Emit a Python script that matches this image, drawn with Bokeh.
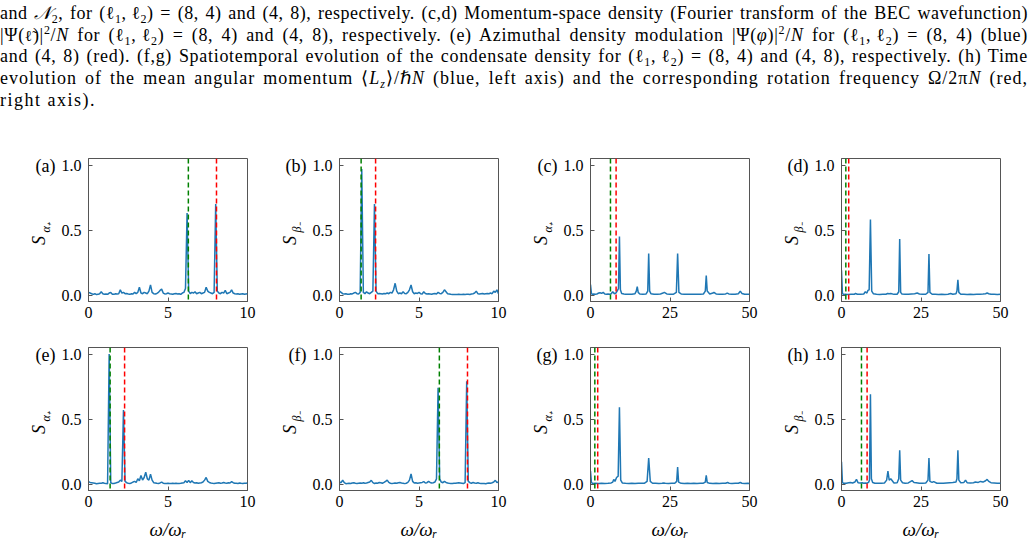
import numpy as np
from bokeh.plotting import figure
from bokeh.models import Span, Div, FixedTicker, Spacer, Range1d, PrintfTickFormatter
from bokeh.core.properties import value
from bokeh.layouts import column, row
from bokeh.embed import file_html
from bokeh.resources import INLINE

# ---------------------------------------------------------------- data
# frequency grid of the short-window spectra (0 ... 10, step 0.1)
omega_short = [round(0.1 * k, 1) for k in range(101)]

s_a = [0.02, 0.015, 0.01, 0.005, 0.01, 0.003, 0.005, 0.01, 0.025, 0.01,
       0.005, 0.008, 0.005, 0.015, 0.02, 0.006, 0.005, 0.01, 0.008, 0.01,
       0.04, 0.015, 0.02, 0.01, 0.012, 0.008, 0.005, 0.01, 0.008, 0.02,
       0.01, 0.02, 0.06, 0.015, 0.01, 0.02, 0.015, 0.01, 0.03, 0.078,
       0.02, 0.01, 0.008, 0.012, 0.02, 0.035, 0.045, 0.015, 0.008, 0.01,
       0.015, 0.01, 0.008, 0.006, 0.01, 0.012, 0.008, 0.01, 0.005, 0.015,
       0.02, 0.05, 0.63, 0.03, 0.01, 0.02, 0.015, 0.025, 0.01, 0.015,
       0.02, 0.01, 0.015, 0.02, 0.06, 0.03, 0.02, 0.015, 0.01, 0.02,
       0.70, 0.03, 0.015, 0.01, 0.02, 0.015, 0.035, 0.01, 0.015, 0.02,
       0.04, 0.015, 0.01, 0.008, 0.01, 0.005, 0.008, 0.01, 0.006, 0.008,
       0.01]

s_b = [0.03, 0.02, 0.01, 0.008, 0.01, 0.006, 0.005, 0.01, 0.008, 0.015,
       0.02, 0.01, 0.008, 0.02, 0.97, 0.02, 0.01, 0.025, 0.015, 0.01,
       0.02, 0.03, 0.70, 0.03, 0.01, 0.012, 0.01, 0.008, 0.012, 0.01,
       0.015, 0.01, 0.02, 0.015, 0.04, 0.09, 0.03, 0.01, 0.015, 0.01,
       0.025, 0.012, 0.01, 0.02, 0.04, 0.078, 0.025, 0.01, 0.015, 0.012,
       0.02, 0.01, 0.008, 0.025, 0.012, 0.008, 0.01, 0.008, 0.006, 0.01,
       0.012, 0.008, 0.02, 0.012, 0.01, 0.02, 0.04, 0.025, 0.01, 0.008,
       0.005, 0.003, 0.003, 0.004, 0.003, 0.005, 0.004, 0.003, 0.005, 0.004,
       0.005, 0.006, 0.004, 0.008, 0.01, 0.015, 0.03, 0.01, 0.008, 0.01,
       0.012, 0.008, 0.01, 0.012, 0.01, 0.015, 0.01, 0.03, 0.02, 0.04,
       0.01]

s_e = [0.018, 0.012, 0.01, 0.008, 0.005, 0.002, 0.004, 0.006, 0.005, 0.01,
       0.006, 0.003, 0.002, 1.0, 0.01, 0.003, 0.004, 0.008, 0.012, 0.015,
       0.03, 0.02, 0.57, 0.02, 0.01, 0.006, 0.004, 0.008, 0.015, 0.02,
       0.012, 0.04, 0.025, 0.065, 0.03, 0.05, 0.09, 0.04, 0.03, 0.075,
       0.03, 0.01, 0.008, 0.005, 0.004, 0.008, 0.015, 0.006, 0.004, 0.003,
       0.005, 0.004, 0.003, 0.005, 0.004, 0.006, 0.004, 0.003, 0.005, 0.008,
       0.01, 0.025, 0.012, 0.028, 0.01, 0.025, 0.012, 0.008, 0.01, 0.006,
       0.008, 0.01, 0.015, 0.03, 0.05, 0.02, 0.012, 0.008, 0.005, 0.004,
       0.006, 0.008, 0.01, 0.006, 0.008, 0.012, 0.008, 0.006, 0.01, 0.008,
       0.018, 0.01, 0.006, 0.005, 0.004, 0.008, 0.005, 0.004, 0.006, 0.005,
       0.008]

s_f = [0.015, 0.01, 0.03, 0.01, 0.002, 0.004, 0.006, 0.004, 0.008, 0.01,
       0.006, 0.004, 0.006, 0.008, 0.005, 0.01, 0.006, 0.008, 0.012, 0.015,
       0.028, 0.01, 0.004, 0.008, 0.006, 0.012, 0.01, 0.006, 0.012, 0.02,
       0.03, 0.012, 0.006, 0.003, 0.005, 0.008, 0.006, 0.01, 0.012, 0.008,
       0.006, 0.003, 0.006, 0.012, 0.03, 0.078, 0.02, 0.008, 0.01, 0.006,
       0.008, 0.01, 0.012, 0.018, 0.008, 0.01, 0.02, 0.012, 0.008, 0.01,
       0.015, 0.04, 0.74, 0.04, 0.015, 0.01, 0.02, 0.012, 0.008, 0.005,
       0.003, 0.004, 0.006, 0.005, 0.008, 0.01, 0.008, 0.006, 0.004, 0.01,
       0.79, 0.02, 0.01, 0.006, 0.012, 0.008, 0.005, 0.01, 0.006, 0.004,
       0.003, 0.004, 0.002, 0.005, 0.008, 0.006, 0.01, 0.015, 0.028, 0.012,
       0.015]

# long-window spectra (0 ... 50)
omega_c = [0, 0.3, 0.6, 1.0, 1.5, 2.0, 2.6, 3.0, 3.5, 4.0,
           4.5, 5.0, 5.5, 6.0, 6.5, 7.0, 7.5, 8.0, 8.5, 8.8,
           9.1, 9.4, 9.8, 10.5, 11.0, 12.0, 13.0, 14.0, 14.4, 14.7,
           15.0, 15.5, 16.5, 17.5, 18.0, 18.3, 18.6, 19.0, 20.0, 21.0,
           22.0, 22.8, 23.2, 24.0, 25.0, 26.0, 27.0, 27.4, 27.8, 28.5,
           29.5, 30.5, 31.5, 32.5, 33.5, 34.5, 35.5, 36.1, 36.4, 36.7,
           37.5, 38.5, 38.8, 39.5, 40.5, 41.5, 42.5, 43.0, 43.5, 44.5,
           45.5, 46.5, 47.1, 47.6, 48.5, 49.5, 50.0]
s_c = [0.08, 0.01, 0.005, 0.008, 0.006, 0.008, 0.015, 0.018, 0.012, 0.02,
       0.008, 0.006, 0.008, 0.005, 0.01, 0.025, 0.01, 0.015, 0.035, 0.05,
       0.45, 0.04, 0.012, 0.008, 0.006, 0.005, 0.006, 0.01, 0.03, 0.065,
       0.02, 0.008, 0.006, 0.008, 0.03, 0.32, 0.03, 0.01, 0.006, 0.005,
       0.008, 0.015, 0.02, 0.008, 0.006, 0.005, 0.02, 0.32, 0.02, 0.008,
       0.006, 0.005, 0.006, 0.005, 0.006, 0.005, 0.008, 0.03, 0.15, 0.03,
       0.008, 0.015, 0.02, 0.008, 0.006, 0.005, 0.008, 0.015, 0.008, 0.005,
       0.006, 0.01, 0.03, 0.012, 0.006, 0.005, 0.006]

omega_d = [0, 0.3, 0.7, 1.2, 2.0, 3.0, 4.0, 4.4, 5.0, 6.0,
           7.0, 7.5, 8.0, 8.3, 8.7, 9.1, 9.5, 10.0, 11.0, 12.0,
           13.0, 14.0, 14.5, 15.0, 15.5, 16.5, 17.5, 18.0, 18.3, 18.6,
           19.0, 20.0, 21.0, 22.0, 23.0, 23.8, 24.5, 25.5, 26.5, 27.2,
           27.5, 27.8, 28.5, 29.5, 30.5, 31.5, 32.5, 33.5, 34.3, 35.0,
           36.0, 36.3, 36.6, 36.9, 37.5, 38.5, 39.5, 40.5, 41.5, 42.5,
           43.5, 44.5, 45.3, 45.8, 46.3, 47.0, 48.0, 49.0, 50.0]
s_d = [0.19, 0.01, 0.004, 0.005, 0.004, 0.006, 0.005, 0.012, 0.006, 0.005,
       0.008, 0.025, 0.015, 0.035, 0.04, 0.58, 0.03, 0.01, 0.005, 0.004,
       0.005, 0.006, 0.012, 0.01, 0.012, 0.005, 0.006, 0.025, 0.43, 0.02,
       0.008, 0.005, 0.006, 0.008, 0.01, 0.015, 0.008, 0.005, 0.006, 0.02,
       0.315, 0.02, 0.006, 0.005, 0.004, 0.005, 0.004, 0.006, 0.012, 0.006,
       0.01, 0.03, 0.116, 0.02, 0.006, 0.005, 0.004, 0.005, 0.004, 0.005,
       0.006, 0.008, 0.01, 0.015, 0.01, 0.006, 0.005, 0.004, 0.005]

omega_g = [0, 0.3, 0.7, 1.5, 2.5, 3.5, 4.5, 5.5, 6.5, 7.0,
           7.3, 7.7, 8.2, 8.7, 9.1, 9.5, 10.0, 11.0, 12.0, 13.0,
           14.0, 15.0, 16.0, 17.0, 17.8, 18.3, 18.8, 19.5, 20.5, 21.5,
           22.5, 23.0, 23.5, 24.5, 25.5, 26.5, 27.1, 27.4, 27.7, 28.5,
           29.5, 30.5, 31.5, 32.5, 33.5, 34.5, 35.5, 36.1, 36.4, 36.7,
           37.5, 38.5, 39.5, 40.5, 41.5, 42.5, 43.1, 43.6, 44.5, 45.5,
           46.5, 47.1, 47.6, 48.5, 49.5, 50.0]
s_g = [0.1, 0.01, 0.004, 0.005, 0.004, 0.005, 0.004, 0.005, 0.008, 0.015,
       0.035, 0.02, 0.05, 0.06, 0.59, 0.03, 0.008, 0.005, 0.004, 0.005,
       0.004, 0.006, 0.005, 0.006, 0.02, 0.2, 0.02, 0.006, 0.005, 0.004,
       0.006, 0.008, 0.005, 0.004, 0.005, 0.006, 0.02, 0.13, 0.015, 0.005,
       0.004, 0.005, 0.004, 0.005, 0.004, 0.005, 0.006, 0.015, 0.066, 0.012,
       0.005, 0.004, 0.005, 0.004, 0.005, 0.006, 0.012, 0.006, 0.004, 0.005,
       0.006, 0.012, 0.006, 0.004, 0.005, 0.004]

omega_h = [0, 0.3, 0.7, 1.5, 2.3, 2.8, 3.5, 4.2, 4.7, 5.2,
           6.0, 6.5, 7.0, 7.5, 8.0, 8.5, 8.8, 9.1, 9.4, 9.8,
           10.5, 11.5, 12.5, 13.5, 14.2, 14.6, 15.0, 15.5, 16.5, 17.5,
           18.0, 18.3, 18.6, 19.2, 20.0, 21.0, 22.2, 22.8, 23.5, 24.5,
           25.5, 26.5, 27.2, 27.5, 27.8, 28.5, 29.0, 30.0, 31.0, 32.0,
           33.0, 34.0, 35.0, 36.0, 36.3, 36.6, 36.9, 37.5, 38.5, 39.0,
           39.5, 40.5, 41.5, 42.1, 43.0, 43.7, 44.5, 45.3, 45.8, 46.3,
           47.0, 48.0, 49.0, 50.0]
s_h = [0.17, 0.01, 0.005, 0.006, 0.01, 0.012, 0.008, 0.015, 0.035, 0.01,
       0.008, 0.01, 0.006, 0.008, 0.006, 0.012, 0.03, 0.69, 0.04, 0.012,
       0.006, 0.005, 0.006, 0.008, 0.03, 0.1, 0.03, 0.04, 0.008, 0.01,
       0.04, 0.26, 0.03, 0.01, 0.006, 0.008, 0.026, 0.012, 0.01, 0.006,
       0.005, 0.008, 0.03, 0.2, 0.02, 0.012, 0.018, 0.006, 0.005, 0.006,
       0.008, 0.01, 0.012, 0.015, 0.04, 0.26, 0.03, 0.01, 0.012, 0.03,
       0.01, 0.008, 0.01, 0.015, 0.012, 0.02, 0.015, 0.025, 0.035, 0.02,
       0.01, 0.008, 0.006, 0.005]

# reference frequencies marked by the dashed lines
omega_green = {"a": 6.28, "b": 1.36, "c": 6.28, "d": 1.36,
               "e": 1.36, "f": 6.28, "g": 1.36, "h": 6.28}
omega_red = {"a": 8.05, "b": 2.27, "c": 8.05, "d": 2.27,
             "e": 2.27, "f": 8.05, "g": 2.27, "h": 8.05}

panel_tags = ["a", "b", "c", "d", "e", "f", "g", "h"]
panel_subscripts = ["α₊", "β₋", "α₊", "β₋", "α₊", "β₋", "α₊", "β₋"]
panel_omega = [omega_short, omega_short, omega_c, omega_d,
               omega_short, omega_short, omega_g, omega_h]
panel_s = [s_a, s_b, s_c, s_d, s_e, s_f, s_g, s_h]
panel_xmax = [10, 10, 50, 50, 10, 10, 50, 50]

# ---------------------------------------------------------------- styling
SERIF = "Liberation Serif"
SPINE = "#555555"
BLUE = "#1f77b4"
FRAME_W, FRAME_H = 159, 143
LABEL_W = 50          # strip holding the panel tag and the y label
AXIS_W = 30           # room for the y tick labels
RIGHT = 12
Y_RANGE = (-0.05, 1.05)


def make_label_strip(i, top, bottom):
    """Narrow plot to the left of a panel carrying '(x)' and the S label."""
    s = figure(width=LABEL_W, height=top + FRAME_H + bottom,
               x_range=Range1d(0, LABEL_W), y_range=Range1d(*Y_RANGE),
               x_axis_type=None, y_axis_type=None,
               output_backend="svg", toolbar_location=None,
               min_border_left=0, min_border_right=0,
               min_border_top=top, min_border_bottom=bottom,
               background_fill_color="white", border_fill_color="white")
    s.grid.visible = False
    s.outline_line_color = None
    s.text(x=[LABEL_W - 3], y=[0.99], text=[f"({panel_tags[i]})"],
           text_align="right", text_baseline="middle",
           text_font=value(SERIF), text_font_size="18px", text_color="black")
    s.text(x=[LABEL_W - 20], y=[0.42], text=["S"], angle=np.pi / 2,
           text_align="center", text_baseline="middle",
           text_font=value(SERIF), text_font_style="italic",
           text_font_size="18px", text_color="black")
    s.text(x=[LABEL_W - 13], y=[0.52], text=[panel_subscripts[i]], angle=np.pi / 2,
           text_align="center", text_baseline="middle",
           text_font=value(SERIF), text_font_style="italic",
           text_font_size="12px", text_color="black")
    return s


def make_panel(i, top, bottom, xlabel):
    tag = panel_tags[i]
    xmax = panel_xmax[i]
    p = figure(width=AXIS_W + FRAME_W + RIGHT, height=top + FRAME_H + bottom,
               x_range=Range1d(0, xmax), y_range=Range1d(*Y_RANGE),
               output_backend="svg", toolbar_location=None,
               min_border_left=AXIS_W, min_border_right=RIGHT,
               min_border_top=top, min_border_bottom=bottom,
               background_fill_color="white", border_fill_color="white")
    p.grid.visible = False
    p.outline_line_color = SPINE
    p.outline_line_width = 1

    for ax in (p.xaxis[0], p.yaxis[0]):
        ax.axis_line_color = SPINE
        ax.major_tick_line_color = SPINE
        ax.major_tick_in = 4
        ax.major_tick_out = 0
        ax.minor_tick_line_color = None
        ax.major_label_text_font = SERIF
        ax.major_label_text_font_size = "16px"
        ax.major_label_text_color = "black"
    p.xaxis.ticker = FixedTicker(ticks=[0, xmax / 2, xmax])
    p.xaxis.formatter = PrintfTickFormatter(format="%d")
    p.yaxis.ticker = FixedTicker(ticks=[0.0, 0.5, 1.0])
    p.yaxis.formatter = PrintfTickFormatter(format="%.1f")
    p.xaxis.major_label_standoff = 5
    p.yaxis.major_label_standoff = 7

    if xlabel:
        p.xaxis.axis_label = "ω/ωᵣ"
        p.xaxis.axis_label_text_font = SERIF
        p.xaxis.axis_label_text_font_style = "italic"
        p.xaxis.axis_label_text_font_size = "19px"
        p.xaxis.axis_label_text_color = "black"
        p.xaxis.axis_label_standoff = 9

    p.line(panel_omega[i], panel_s[i], line_color=BLUE, line_width=1.5)

    p.add_layout(Span(location=omega_green[tag], dimension="height",
                      line_color="green", line_dash="5 3", line_width=1.5))
    p.add_layout(Span(location=omega_red[tag], dimension="height",
                      line_color="red", line_dash="5 3", line_width=1.5))
    return p


# ---------------------------------------------------------------- caption
def sub(t):
    return f'<span style="font-size:12px;vertical-align:-4px;line-height:0">{t}</span>'


def sup(t):
    return f'<span style="font-size:12px;vertical-align:7px;line-height:0">{t}</span>'


def math(t):
    # keep a formula together so that justification does not spread it
    return f'<span style="display:inline-block;line-height:0">{t}</span>'


# ell with a combining tilde, set in a face that carries the accent
ell_tilde = '<span style="font-family:\'DejaVu Serif\';font-size:15px">ℓ\u0303</span>'
ell = math(f"(ℓ{sub('1')}, ℓ{sub('2')})")
caption_lines = [
    f"and {math('<i>𝒩</i>' + sub('2'))}, for {ell} = (8, 4) and (4, 8), respectively. (c,d) "
    f"Momentum-space density (Fourier transform of the BEC wavefunction)",
    f"{math('|Ψ(' + ell_tilde + ')|' + sup('2') + '/<i>N</i>')} for {ell} = (8, 4) and (4, 8), "
    f"respectively. (e) Azimuthal density modulation "
    f"{math('|Ψ(<i>φ</i>)|' + sup('2') + '/<i>N</i>')} for {ell} = (8, 4) (blue)",
    f"and (4, 8) (red). (f,g) Spatiotemporal evolution of the condensate density for "
    f"{ell} = (8, 4) and (4, 8), respectively. (h) Time",
    f"evolution of the mean angular momentum {math('⟨<i>L</i>' + sub('<i>z</i>') + '⟩/ℏ<i>N</i>')} "
    f"(blue, left axis) and the corresponding rotation frequency {math('Ω/2π<i>N</i>')} (red,",
    "right axis).",
]
caption_tracking = [0.5, 0.7, 0.7, 1.0, 1.5]   # letter-spacing per line, px

line_css = "height:21.7px;line-height:21.7px;white-space:nowrap;"
html = []
for k, t in enumerate(caption_lines):
    last = k == len(caption_lines) - 1
    align = "text-align:left;" if last else "text-align:justify;text-align-last:justify;"
    html.append(f'<div style="{line_css}{align}letter-spacing:{caption_tracking[k]}px;">{t}</div>')
caption = Div(
    text=f'<div style="width:1028px;padding-top:3px;font-family:\'{SERIF}\';'
         f'font-size:18px;color:black;">' + "".join(html) + "</div>",
    width=1028, height=130, margin=0)

# ---------------------------------------------------------------- layout
TOP1, BOT1 = 28, 24
TOP2, BOT2 = 22, 53

row1 = [Spacer(width=8, height=TOP1 + FRAME_H + BOT1, margin=0)]
for i in range(4):
    row1 += [make_label_strip(i, TOP1, BOT1), make_panel(i, TOP1, BOT1, False)]
row2 = [Spacer(width=8, height=TOP2 + FRAME_H + BOT2, margin=0)]
for i in range(4, 8):
    row2 += [make_label_strip(i, TOP2, BOT2), make_panel(i, TOP2, BOT2, True)]

layout = column(caption, row(*row1), row(*row2))

open("out.html", "w").write(file_html(layout, INLINE))
